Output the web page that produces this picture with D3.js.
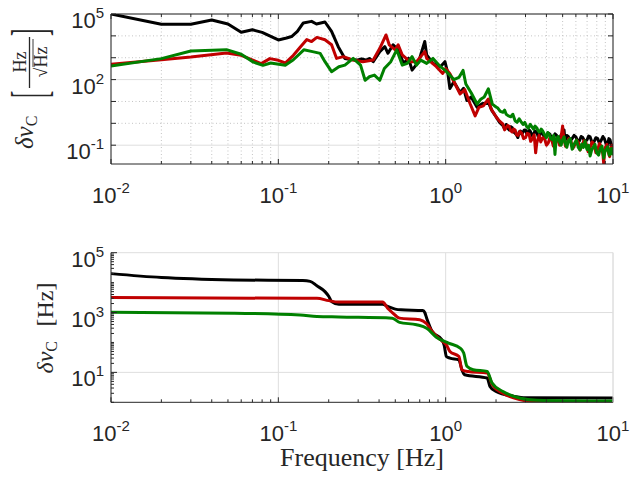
<!DOCTYPE html>
<html>
<head>
<meta charset="utf-8">
<script src="https://cdn.jsdelivr.net/npm/d3@7"></script>
<style>
  body { margin: 0; background: #fff; }
  svg { display: block; }
</style>
</head>
<body>
<svg id="chart" width="630" height="481"></svg>
<script>
// x ticks (Hz) and y ticks for both panels
var xTicks = [0.01, 0.1, 1, 10];
var topYTicks = [1e-1, 1e2, 1e5];
var botYTicks = [1e1, 1e3, 1e5];
var seriesColors = ["#000000", "#c00000", "#008000"];

// top panel: noise spectral density [Hz/sqrt(Hz)] vs frequency [Hz]
var psdBlack = [[0.01,1e5],[0.02,3.4e4],[0.03,3.4e4],[0.04,5.3e4],[0.05,3.5e4],[0.06,1.45e4],[0.07,1.9e4],[0.08,1.45e4],
  [0.1,6500],[0.112,8000],[0.12,9300],[0.13,1.6e4],[0.141,3.9e4],[0.158,4.6e4],[0.169,3.5e4],[0.19,4.3e4],[0.208,1.6e4],
  [0.228,3200],[0.25,930],[0.27,830],[0.294,780],[0.315,890],[0.337,780],[0.35,930],[0.369,660],[0.404,1900],[0.433,3200],
  [0.452,1600],[0.485,3900],[0.52,2300],[0.56,550],[0.6,930],[0.63,270],[0.69,660],[0.75,5500],[0.77,1350],[0.84,550],
  [0.93,390],[0.99,660],[1.03,200],[1.06,39],[1.12,80],[1.22,26],[1.28,40],[1.34,11],[1.42,16],[1.54,5.4],[1.65,7.9],
  [1.8,9.1],[1.89,3.8],[2.0,2],[2.1,1.1],[2.2,0.79],[2.25,0.56],[2.3,0.89],[2.35,0.6],[2.4,0.5],[2.45,0.7],[2.5,0.63],
  [2.55,0.4],[2.6,0.355],[2.65,0.3],[2.7,0.224],[2.75,0.4],[2.8,0.447],[2.85,0.32],[2.9,0.398],[2.95,0.5],[3.0,0.5],
  [3.05,0.33],[3.1,0.355],[3.15,0.5],[3.2,0.447],[3.28,0.28],[3.35,0.316],[3.42,0.45],[3.5,0.398],[3.57,0.25],[3.65,0.282],
  [3.72,0.4],[3.8,0.355],[3.9,0.22],[4.0,0.251],[4.1,0.36],[4.2,0.316],[4.3,0.2],[4.4,0.24],[4.5,0.33],[4.6,0.282],
  [4.7,0.18],[4.8,0.2],[4.9,0.3],[5.0,0.282],[5.1,0.5],[5.15,0.2],[5.2,0.178],[5.3,0.28],[5.4,0.251],[5.55,0.16],
  [5.7,0.2],[5.85,0.28],[6.0,0.24],[6.15,0.15],[6.3,0.158],[6.45,0.25],[6.6,0.224],[6.8,0.14],[7.0,0.178],[7.15,0.26],
  [7.3,0.24],[7.5,0.13],[7.7,0.141],[7.9,0.22],[8.1,0.2],[8.3,0.12],[8.5,0.166],[8.7,0.25],[8.9,0.19],[9.1,0.11],
  [9.3,0.112],[9.45,0.2],[9.6,0.178],[9.8,0.09],[10,0.112]];

var psdRed = [[0.01,500],[0.02,810],[0.03,1070],[0.049,1660],[0.06,1290],[0.071,760],[0.079,540],[0.089,910],[0.1,760],
  [0.11,575],[0.123,1290],[0.135,3000],[0.148,6800],[0.158,5500],[0.17,8500],[0.19,6600],[0.208,3900],[0.223,930],
  [0.245,1120],[0.28,780],[0.32,660],[0.369,780],[0.404,2700],[0.44,1.1e4],[0.46,3900],[0.5,2300],[0.52,3900],[0.55,1350],
  [0.61,660],[0.67,660],[0.75,1900],[0.77,930],[0.88,390],[0.96,190],[1.0,320],[1.06,186],[1.22,22],[1.3,35],[1.4,7.9],
  [1.5,2.2],[1.58,5.4],[1.68,6.3],[1.8,13],[1.87,4.5],[2.0,2],[2.1,1.26],[2.2,0.91],[2.25,0.5],[2.3,0.63],[2.35,0.8],
  [2.4,0.71],[2.45,0.45],[2.5,0.4],[2.55,0.55],[2.6,0.5],[2.65,0.3],[2.7,0.28],[2.78,0.42],[2.85,0.35],[2.92,0.2],
  [3.0,0.22],[3.07,0.35],[3.15,0.32],[3.22,0.15],[3.3,0.2],[3.38,0.3],[3.45,0.045],[3.5,0.12],[3.55,0.18],[3.62,0.28],
  [3.7,0.14],[3.8,0.22],[3.9,0.2],[4.0,0.1],[4.1,0.126],[4.2,0.22],[4.3,0.18],[4.4,0.09],[4.5,0.112],[4.6,0.2],
  [4.7,0.158],[4.8,0.1],[4.9,0.25],[5.0,0.76],[5.05,0.3],[5.1,0.2],[5.2,0.09],[5.3,0.112],[5.45,0.2],[5.6,0.158],
  [5.75,0.07],[5.9,0.1],[6.05,0.17],[6.2,0.14],[6.35,0.06],[6.5,0.089],[6.7,0.16],[6.9,0.126],[7.1,0.05],[7.3,0.079],
  [7.5,0.14],[7.7,0.112],[7.9,0.045],[8.1,0.063],[8.3,0.12],[8.5,0.089],[8.7,0.04],[8.8,0.014],[8.9,0.05],[9.0,0.079],
  [9.2,0.11],[9.4,0.045],[9.55,0.03],[9.7,0.079],[9.85,0.1],[10,0.05]];

var psdGreen = [[0.01,420],[0.02,910],[0.03,2040],[0.049,2340],[0.06,1450],[0.071,630],[0.081,450],[0.09,575],[0.11,450],
  [0.123,810],[0.142,2300],[0.16,1900],[0.178,1580],[0.19,660],[0.208,230],[0.23,390],[0.25,460],[0.28,930],[0.31,460],
  [0.33,93],[0.35,135],[0.375,160],[0.404,93],[0.43,320],[0.47,660],[0.51,2300],[0.55,460],[0.59,550],[0.63,1120],
  [0.67,460],[0.71,780],[0.77,550],[0.84,930],[0.93,390],[0.99,270],[1.06,160],[1.12,100],[1.2,126],[1.27,263],[1.32,63],
  [1.42,25],[1.54,7.6],[1.62,12.6],[1.7,16],[1.8,38],[1.9,7.6],[2.0,5.6],[2.05,5],[2.12,3.5],[2.2,3.2],[2.25,4],
  [2.3,2.6],[2.37,2.2],[2.45,2],[2.52,2.6],[2.6,1.3],[2.67,1.1],[2.75,1.6],[2.82,1.2],[2.9,0.89],[2.97,1.1],[3.05,0.71],
  [3.12,0.6],[3.2,0.89],[3.27,0.7],[3.35,0.54],[3.42,0.75],[3.5,0.63],[3.57,0.45],[3.65,0.4],[3.72,0.55],[3.8,0.45],
  [3.9,0.3],[4.0,0.22],[4.07,0.38],[4.15,0.32],[4.25,0.2],[4.35,0.18],[4.42,0.28],[4.5,0.038],[4.55,0.12],[4.6,0.2],
  [4.7,0.25],[4.8,0.14],[4.9,0.1],[5.0,0.18],[5.1,0.24],[5.2,0.112],[5.3,0.08],[5.4,0.158],[5.55,0.2],[5.7,0.065],
  [5.8,0.09],[5.9,0.126],[6.05,0.17],[6.2,0.079],[6.35,0.06],[6.5,0.112],[6.65,0.08],[6.8,0.155],[6.9,0.09],[7.0,0.063],
  [7.15,0.1],[7.3,0.032],[7.45,0.06],[7.6,0.079],[7.8,0.11],[8.0,0.045],[8.2,0.035],[8.4,0.071],[8.6,0.09],[8.8,0.026],
  [8.95,0.05],[9.1,0.063],[9.3,0.085],[9.5,0.035],[9.65,0.05],[9.8,0.071],[9.9,0.04],[10,0.054]];

// bottom panel: cumulative noise [Hz] vs frequency [Hz]
var cumBlack = [[0.01,2.0e4],[0.02,1.48e4],[0.054,1.23e4],[0.14,1.17e4],[0.155,1.1e4],[0.17,7800],[0.19,5000],[0.2,3500],
  [0.208,2350],[0.23,1900],[0.42,1900],[0.45,1600],[0.5,1300],[0.54,1230],[0.73,1170],[0.75,1000],[0.77,650],[0.83,235],
  [0.95,123],[0.98,80],[1.01,34],[1.06,30],[1.2,26],[1.25,12.3],[1.3,8.3],[1.77,6.5],[1.84,3.4],[2.0,2.3],[2.54,1.6],
  [3.0,1.41],[10,1.4]];
var cumRed = [[0.01,3160],[0.14,3000],[0.17,3000],[0.2,2500],[0.228,2240],[0.42,2240],[0.45,1400],[0.48,1000],[0.53,650],
  [0.7,575],[0.77,420],[0.83,235],[0.93,123],[1.01,83],[1.06,50],[1.2,34],[1.25,12.3],[1.36,10.7],[1.77,9.5],[1.9,3.9],
  [2.2,2.0],[2.76,1.23],[3.3,1.07],[10,1.07]];
var cumGreen = [[0.01,1020],[0.054,955],[0.135,830],[0.17,740],[0.23,710],[0.48,650],[0.53,470],[0.67,390],[0.77,300],
  [0.88,150],[1.04,95],[1.22,65],[1.28,45],[1.34,16],[1.46,12.3],[1.77,10.7],[1.89,4.5],[2.2,2.3],[2.76,1.4],[3.5,1.17],
  [10,1.1]];

var svg = d3.select("#chart");
var axisColor = "#262626";
var tickFont = "'Liberation Sans', Arial, sans-serif";
var texFont = "'Liberation Serif', 'Times New Roman', serif";

var x = d3.scaleLog().domain([0.01, 10]).range([111, 613]);
var yTop = d3.scaleLog().domain([0.0138, 1e5]).range([164, 14]);
var yBot = d3.scaleLog().domain([1, 1e5]).range([402.3, 252.7]);

// minor positions 1..9 per decade
function decadeSteps(lo, hi) {
  var out = [];
  for (var e = lo; e < hi; e++) {
    for (var m = 1; m < 10; m++) out.push(m * Math.pow(10, e));
  }
  out.push(Math.pow(10, hi));
  return out;
}
function isDecade(v) { return Math.abs(Math.log10(v) - Math.round(Math.log10(v))) < 1e-9; }

function expLabel(sel, v) {
  var e = Math.round(Math.log10(v));
  sel.text("10");
  sel.append("tspan").attr("dy", -10).attr("font-size", 15).text(e);
}

function panel(y, opts) {
  var g = svg.append("g");
  var x0 = x.range()[0], x1 = x.range()[1];
  var y0 = y.range()[1], y1 = y.range()[0];
  var xMinor = decadeSteps(-2, 1);

  // grid
  var grid = g.append("g");
  grid.selectAll(".gx").data(xMinor.filter(function(d) { return opts.minorGrid || isDecade(d); }))
    .enter().append("line")
    .attr("x1", function(d) { return x(d); }).attr("x2", function(d) { return x(d); })
    .attr("y1", y0).attr("y2", y1)
    .attr("stroke", function(d) { return isDecade(d) ? "#dedede" : "#c4c4c4"; })
    .attr("stroke-dasharray", function(d) { return isDecade(d) ? null : "1,2.5"; });
  grid.selectAll(".gy").data(opts.yGrid)
    .enter().append("line")
    .attr("x1", x0).attr("x2", x1)
    .attr("y1", function(d) { return y(d.v); }).attr("y2", function(d) { return y(d.v); })
    .attr("stroke", function(d) { return d.major ? "#dedede" : "#c4c4c4"; })
    .attr("stroke-dasharray", function(d) { return d.major ? null : "1,2.5"; });

  // data
  var clipId = "clip" + Math.round(y0);
  svg.append("clipPath").attr("id", clipId).append("rect")
    .attr("x", x0).attr("y", y0).attr("width", x1 - x0).attr("height", y1 - y0);
  var line = d3.line()
    .x(function(d) { return x(d[0]); })
    .y(function(d) { return y(d[1]); })
    .curve(opts.curve);
  g.append("g").attr("clip-path", "url(#" + clipId + ")")
    .selectAll("path").data(opts.series).enter().append("path")
    .attr("d", line)
    .attr("fill", "none")
    .attr("stroke", function(d, i) { return seriesColors[i]; })
    .attr("stroke-width", 3)
    .attr("stroke-linejoin", "round");

  // axes box
  var ax = g.append("g").attr("stroke", axisColor).attr("fill", "none");
  ax.append("line").attr("x1", x0).attr("x2", x1).attr("y1", y1).attr("y2", y1);
  ax.append("line").attr("x1", x0).attr("x2", x0).attr("y1", y0).attr("y2", y1);
  if (opts.box) {
    ax.append("line").attr("x1", x0).attr("x2", x1).attr("y1", y0).attr("y2", y0);
    ax.append("line").attr("x1", x1).attr("x2", x1).attr("y1", y0).attr("y2", y1);
  }

  // x ticks (inside)
  xMinor.forEach(function(d) {
    var len = isDecade(d) ? 5 : 3;
    ax.append("line").attr("x1", x(d)).attr("x2", x(d)).attr("y1", y1).attr("y2", y1 - len);
    if (opts.box) ax.append("line").attr("x1", x(d)).attr("x2", x(d)).attr("y1", y0).attr("y2", y0 + len);
  });
  // y ticks (inside)
  opts.yTickMarks.forEach(function(d) {
    ax.append("line").attr("x1", x0).attr("x2", x0 + d.len).attr("y1", y(d.v)).attr("y2", y(d.v));
    if (opts.box) ax.append("line").attr("x1", x1).attr("x2", x1 - d.len).attr("y1", y(d.v)).attr("y2", y(d.v));
  });

  // tick labels
  g.selectAll(".xl").data(xTicks).enter().append("text")
    .attr("x", function(d) { return x(d); }).attr("y", y1 + 39)
    .attr("text-anchor", "middle")
    .attr("font-family", tickFont).attr("font-size", 22).attr("fill", axisColor)
    .each(function(d) { expLabel(d3.select(this), d); });
  g.selectAll(".yl").data(opts.yTicks).enter().append("text")
    .attr("x", x0 - 7).attr("y", function(d) { return y(d) + 14; })
    .attr("text-anchor", "end")
    .attr("font-family", tickFont).attr("font-size", 22).attr("fill", axisColor)
    .each(function(d) { expLabel(d3.select(this), d); });
  return g;
}

// top panel: solid grid at labelled decades, dotted at the others
var topGrid = [];
for (var e = -1; e <= 5; e++) {
  topGrid.push({ v: Math.pow(10, e), major: topYTicks.some(function(t) { return Math.round(Math.log10(t)) === e; }) });
}
panel(yTop, {
  series: [psdBlack, psdRed, psdGreen],
  curve: d3.curveLinear,
  box: true,
  minorGrid: true,
  yGrid: topGrid,
  yTicks: topYTicks,
  yTickMarks: topGrid.map(function(d) { return { v: d.v, len: 5 }; })
});

// bottom panel
var botMarks = decadeSteps(0, 5).map(function(v) {
  return { v: v, len: isDecade(v) && Math.round(Math.log10(v)) % 2 === 1 ? 6 : 3 };
});
panel(yBot, {
  series: [cumBlack, cumRed, cumGreen],
  curve: d3.curveMonotoneX,
  box: false,
  minorGrid: false,
  yGrid: botYTicks.map(function(v) { return { v: v, major: true }; }),
  yTicks: botYTicks,
  yTickMarks: botMarks
});
// light right edge of bottom panel (grid)
svg.append("line").attr("x1", 613).attr("x2", 613).attr("y1", 252.7).attr("y2", 402.3).attr("stroke", "#dedede");

// x label
svg.append("text")
  .attr("x", 362).attr("y", 466)
  .attr("text-anchor", "middle")
  .attr("font-family", texFont).attr("font-size", 26).attr("fill", axisColor)
  .text("Frequency [Hz]");

// top y label: δν_C [Hz/√Hz]
var lt = svg.append("g").attr("transform", "translate(0,89) rotate(-90)")
  .attr("fill", axisColor).attr("font-family", texFont);
var t1 = lt.append("text").attr("x", -60).attr("y", 33).attr("font-size", 25);
t1.append("tspan").attr("font-style", "italic").text("δν");
t1.append("tspan").attr("font-size", 16).attr("dy", 4).text("C");
lt.append("text").attr("transform", "translate(-9,46) scale(0.55,1.25)")
  .attr("font-size", 40).text("[");
lt.append("text").attr("transform", "translate(53,46) scale(0.55,1.25)")
  .attr("font-size", 40).text("]");
lt.append("text").attr("x", 27).attr("y", 26).attr("text-anchor", "middle").attr("font-size", 18).text("Hz");
lt.append("line").attr("x1", 1).attr("x2", 52).attr("y1", 29.5).attr("y2", 29.5)
  .attr("stroke", axisColor).attr("stroke-width", 1.3);
lt.append("text").attr("x", 27).attr("y", 47).attr("text-anchor", "middle").attr("font-size", 18).text("√Hz");
lt.append("line").attr("x1", 22).attr("x2", 50).attr("y1", 33).attr("y2", 33)
  .attr("stroke", axisColor).attr("stroke-width", 0.9);

// bottom y label: δν_C [Hz]
var lb = svg.append("g").attr("transform", "translate(0,327.5) rotate(-90)")
  .attr("fill", axisColor).attr("font-family", texFont);
var t2 = lb.append("text").attr("x", -46).attr("y", 53).attr("font-size", 24);
t2.append("tspan").attr("font-style", "italic").text("δν");
t2.append("tspan").attr("font-size", 16).attr("dy", 4).text("C");
lb.append("text").attr("x", 1).attr("y", 53).attr("font-size", 24).text("[Hz]");
</script>
</body>
</html>
